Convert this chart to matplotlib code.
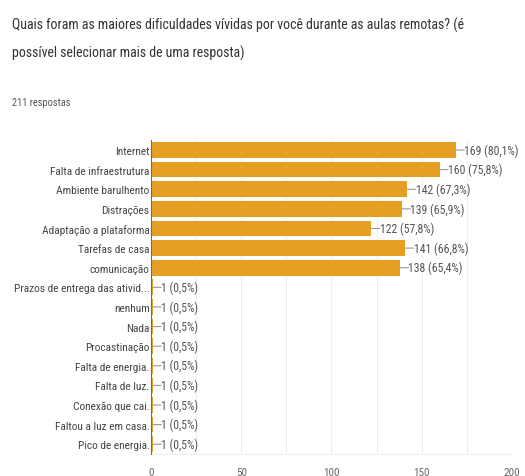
import matplotlib.pyplot as plt

plt.rcParams['font.family'] = ['Roboto Condensed', 'DejaVu Sans']

categorias = ['Internet', 'Falta de infraestrutura', 'Ambiente barulhento', 'Distrações',
              'Adaptação a plataforma', 'Tarefas de casa', 'comunicação',
              'Prazos de entrega das ativid...', 'nenhum', 'Nada', 'Procastinação',
              'Falta de energia.', 'Falta de luz.', 'Conexão que cai.',
              'Faltou a luz em casa.', 'Pico de energia.']
respostas = [169, 160, 142, 139, 122, 141, 138, 1, 1, 1, 1, 1, 1, 1, 1, 1]
percentuais = ['80,1', '75,8', '67,3', '65,9', '57,8', '66,8', '65,4',
               '0,5', '0,5', '0,5', '0,5', '0,5', '0,5', '0,5', '0,5', '0,5']

fig = plt.figure(figsize=(5.25, 4.77), dpi=100)
ax = fig.add_axes([0.2876, 0.046, 0.6876, 0.658])

pos = list(range(len(categorias)))
ax.barh(pos, respostas, height=0.8, color='#e5a023', zorder=2)

# rótulos com traço ligando à barra
for i, (v, p) in enumerate(zip(respostas, percentuais)):
    ax.annotate(f'{v} ({p}%)', xy=(v, i), xytext=(6, 0), textcoords='offset points',
                va='center', ha='left', fontsize=8.5, color='#555555')
    ax.annotate('', xy=(v, i), xytext=(6, 0), textcoords='offset points',
                arrowprops=dict(arrowstyle='-', color='#999999', lw=0.8, shrinkA=0, shrinkB=0))

ax.set_xlim(0, 200)
ax.set_ylim(len(categorias) - 0.5, -0.5)
ax.set_yticks(pos)
ax.set_yticklabels(categorias, fontsize=8.2, color='#444444')
ax.set_xticks([0, 50, 100, 150, 200])
ax.set_xticks([25, 75, 125, 175], minor=True)
ax.tick_params(axis='x', which='both', length=0, labelsize=8, colors='#666666', pad=9)
ax.tick_params(axis='y', length=0, pad=1)
ax.grid(axis='x', which='both', color='#eeeeee', lw=0.8, zorder=0)

for lado in ['top', 'right']:
    ax.spines[lado].set_visible(False)
ax.spines['bottom'].set_color('#eeeeee')
ax.spines['left'].set_color('#7a6a50')
ax.spines['left'].set_zorder(3)

fig.text(12 / 525, 1 - 25 / 477,
         'Quais foram as maiores dificuldades vívidas por você durante as aulas remotas? (é',
         fontsize=10, color='#333333', va='center')
fig.text(12 / 525, 1 - 53 / 477, 'possível selecionar mais de uma resposta)',
         fontsize=10, color='#333333', va='center')
fig.text(12 / 525, 1 - 103 / 477, '211 respostas', fontsize=7.5, color='#555555', va='center')

fig.savefig('out.png', dpi=100)
